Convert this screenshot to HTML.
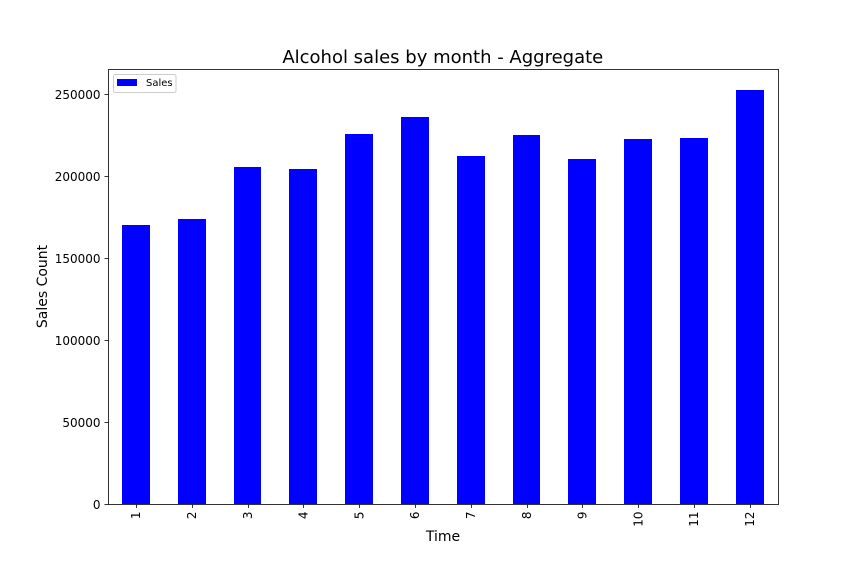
<!DOCTYPE html>
<html>
<head>
<meta charset="utf-8">
<style>
html,body{margin:0;padding:0;background:#fff;}
svg{display:block;font-family:"DejaVu Sans","Liberation Sans",sans-serif;fill:#000;}
</style>
</head>
<body>
<svg id="chart" width="864" height="576" viewBox="0 0 864 576" xmlns="http://www.w3.org/2000/svg">
  <rect x="0" y="0" width="864" height="576" fill="#fff"/>
  <g id="bars"></g>
  <g id="xticks"></g>
  <g id="yticks"></g>
  <rect x="108.5" y="69.5" width="670" height="435" fill="none" stroke="#000" stroke-width="0.8"/>
  <text x="442.8" y="63" font-size="18" text-anchor="middle">Alcohol sales by month - Aggregate</text>
  <text x="443" y="541" font-size="14" text-anchor="middle">Time</text>
  <text transform="translate(47,286.5) rotate(-90)" font-size="14" text-anchor="middle">Sales Count</text>
  <g>
    <rect x="113.5" y="74.5" width="62.5" height="18" rx="2" fill="#fff" stroke="#ccc" stroke-width="1"/>
    <rect x="117" y="79" width="20" height="7" fill="#0000ff"/>
    <text x="146" y="86" font-size="10">Sales</text>
  </g>
</svg>
<script>
const categories = ['1','2','3','4','5','6','7','8','9','10','11','12'];
const salesValues = [170100,173800,205500,204300,225600,236000,212200,225000,210400,222600,223200,252400];
const yTickValues = [0,50000,100000,150000,200000,250000];

const svgNS = 'http://www.w3.org/2000/svg';
const plotLeft = 108, plotWidth = 669.6, plotTop = 69.12, plotBottom = 504;
const yMax = Math.max(...salesValues) * 1.05;
const barWidthFraction = 0.5;

function xScale(i) {
  return plotLeft + (i + 0.5) * plotWidth / categories.length;
}
function yScale(v) {
  return plotBottom - (v / yMax) * (plotBottom - plotTop);
}
function make(tag, attrs) {
  const el = document.createElementNS(svgNS, tag);
  for (const k in attrs) el.setAttribute(k, attrs[k]);
  return el;
}

const barsGroup = document.getElementById('bars');
const xGroup = document.getElementById('xticks');
const yGroup = document.getElementById('yticks');
const step = plotWidth / categories.length;

categories.forEach(function (cat, i) {
  const x = xScale(i);
  const top = Math.round(yScale(salesValues[i]));
  const left = Math.round(x - step * barWidthFraction / 2);
  const right = Math.round(x + step * barWidthFraction / 2);
  const bar = make('rect', {x: left, y: top, width: right - left, height: plotBottom - top, fill: '#0000ff'});
  
  
  barsGroup.appendChild(bar);

  const tx = Math.round(x) + 0.5;
  const tick = make('line', {x1: tx, x2: tx, y1: plotBottom + 0.5, y2: plotBottom + 4, stroke: '#000', 'stroke-width': 0.8});
  
  
  xGroup.appendChild(tick);

  const label = make('text', {transform: 'translate(' + (x + 4.3) + ',' + (plotBottom + 7.5) + ') rotate(-90)', 'font-size': 12, 'text-anchor': 'end'});
  
  
  label.textContent = cat;
  xGroup.appendChild(label);
});

yTickValues.forEach(function (v) {
  const y = Math.round(yScale(v)) + 0.5;
  const tick = make('line', {x1: plotLeft - 3.5, x2: plotLeft + 0.5, y1: y, y2: y, stroke: '#000', 'stroke-width': 0.8});
  
  
  yGroup.appendChild(tick);

  const label = make('text', {x: plotLeft - 7.5, y: y + 4.4, 'font-size': 12, 'text-anchor': 'end'});
  
  
  label.textContent = String(v);
  yGroup.appendChild(label);
});
</script>
</body>
</html>
